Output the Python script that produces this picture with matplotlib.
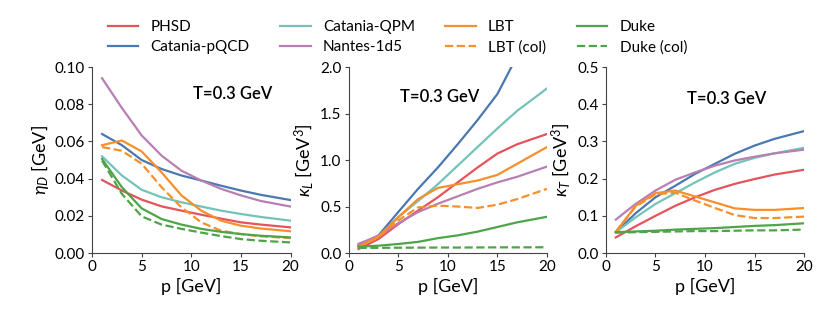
import numpy as np
import matplotlib
matplotlib.use("Agg")
import matplotlib.pyplot as plt

plt.rcParams['font.family'] = ['Lato', 'DejaVu Sans']
plt.rcParams['mathtext.fontset'] = 'custom'
plt.rcParams['mathtext.rm'] = 'Lato'
plt.rcParams['mathtext.it'] = 'Lato:italic'

# momentum grid (GeV)
p = [1, 3, 5, 7, 9, 11, 13, 15, 17, 20]

# eta_D [GeV]
eta_phsd = [0.0393, 0.0336, 0.0287, 0.0251, 0.0228, 0.0206, 0.0185, 0.0165, 0.0153, 0.0138]
eta_cpqcd = [0.064, 0.058, 0.050, 0.0452, 0.0417, 0.039, 0.0362, 0.0336, 0.0313, 0.0285]
eta_cqpm = [0.052, 0.0417, 0.034, 0.030, 0.0273, 0.025, 0.0228, 0.021, 0.0194, 0.0174]
eta_nantes = [0.094, 0.078, 0.0632, 0.0524, 0.0443, 0.039, 0.0345, 0.031, 0.028, 0.025]
eta_lbt = [0.058, 0.0605, 0.0546, 0.0434, 0.031, 0.0228, 0.0174, 0.0147, 0.0132, 0.0117]
eta_lbt_col = [0.057, 0.055, 0.048, 0.0354, 0.0246, 0.0165, 0.012, 0.0102, 0.009, 0.008]
eta_duke = [0.0506, 0.0354, 0.024, 0.0183, 0.0153, 0.013, 0.0114, 0.0102, 0.0093, 0.0084]
eta_duke_col = [0.0497, 0.0318, 0.0197, 0.0153, 0.013, 0.011, 0.0091, 0.0075, 0.0066, 0.0057]

# kappa_L [GeV^3]
kl_phsd = [0.043, 0.15, 0.31, 0.456, 0.60, 0.76, 0.92, 1.07, 1.17, 1.28]
kl_cpqcd = [0.079, 0.187, 0.44, 0.69, 0.92, 1.17, 1.43, 1.71, 2.12, 2.75]
kl_cqpm = [0.097, 0.176, 0.385, 0.56, 0.74, 0.94, 1.14, 1.34, 1.53, 1.77]
kl_nantes = [0.097, 0.187, 0.32, 0.44, 0.53, 0.61, 0.69, 0.76, 0.82, 0.93]
kl_lbt = [0.068, 0.176, 0.385, 0.58, 0.70, 0.74, 0.78, 0.84, 0.96, 1.14]
kl_lbt_col = [0.068, 0.17, 0.35, 0.49, 0.51, 0.50, 0.485, 0.52, 0.58, 0.69]
kl_duke = [0.068, 0.079, 0.097, 0.12, 0.16, 0.19, 0.23, 0.28, 0.33, 0.39]
kl_duke_col = [0.055, 0.056, 0.057, 0.058, 0.059, 0.059, 0.060, 0.061, 0.061, 0.062]

# kappa_T [GeV^3]
kt_phsd = [0.042, 0.072, 0.10, 0.127, 0.15, 0.17, 0.186, 0.199, 0.211, 0.224]
kt_cpqcd = [0.056, 0.107, 0.15, 0.181, 0.213, 0.24, 0.267, 0.289, 0.307, 0.328]
kt_cqpm = [0.056, 0.096, 0.132, 0.161, 0.19, 0.217, 0.24, 0.256, 0.268, 0.283]
kt_nantes = [0.09, 0.132, 0.168, 0.197, 0.217, 0.235, 0.249, 0.259, 0.268, 0.278]
kt_lbt = [0.057, 0.127, 0.161, 0.168, 0.152, 0.136, 0.12, 0.116, 0.116, 0.121]
kt_lbt_col = [0.057, 0.125, 0.158, 0.162, 0.141, 0.121, 0.102, 0.094, 0.094, 0.098]
kt_duke = [0.056, 0.058, 0.060, 0.063, 0.065, 0.067, 0.070, 0.073, 0.075, 0.080]
kt_duke_col = [0.055, 0.056, 0.057, 0.058, 0.059, 0.059, 0.060, 0.061, 0.061, 0.063]

colors = {"PHSD": "#e5545c", "Catania-pQCD": "#4a78b0", "Catania-QPM": "#74c3b9",
          "Nantes-1d5": "#b77fb3", "LBT": "#f68f2c", "Duke": "#4ea448"}

panels = [
    ([eta_phsd, eta_cpqcd, eta_cqpm, eta_nantes, eta_lbt, eta_lbt_col, eta_duke, eta_duke_col],
     r"$\eta_D$ [GeV]", (0, 0.10), [0, 0.02, 0.04, 0.06, 0.08, 0.10], "{:.2f}", (0.71, 0.855)),
    ([kl_phsd, kl_cpqcd, kl_cqpm, kl_nantes, kl_lbt, kl_lbt_col, kl_duke, kl_duke_col],
     r"$\kappa_L$ [GeV$^3$]", (0, 2.0), [0, 0.5, 1.0, 1.5, 2.0], "{:.1f}", (0.46, 0.84)),
    ([kt_phsd, kt_cpqcd, kt_cqpm, kt_nantes, kt_lbt, kt_lbt_col, kt_duke, kt_duke_col],
     r"$\kappa_T$ [GeV$^3$]", (0, 0.5), [0, 0.1, 0.2, 0.3, 0.4, 0.5], "{:.1f}", (0.61, 0.83)),
]

names = ["PHSD", "Catania-pQCD", "Catania-QPM", "Nantes-1d5", "LBT", "LBT (col)", "Duke", "Duke (col)"]
styles = ["-", "-", "-", "-", "-", "--", "-", "--"]
base = ["PHSD", "Catania-pQCD", "Catania-QPM", "Nantes-1d5", "LBT", "LBT", "Duke", "Duke"]

fig = plt.figure(figsize=(8.3, 3.12), dpi=100)
lefts = [0.111, 0.420, 0.730]
lines = []
for k, (series, ylab, ylim, yt, fmt, tpos) in enumerate(panels):
    ax = fig.add_axes([lefts[k], 0.189, 0.239, 0.596])
    for s, n, ls, b in zip(series, names, styles, base):
        ln, = ax.plot(p, s, ls, color=colors[b], lw=1.6, label=n)
        if k == 0:
            lines.append(ln)
    ax.set_xlim(0, 20)
    ax.set_ylim(*ylim)
    ax.set_xticks([0, 5, 10, 15, 20])
    ax.set_yticks(yt)
    ax.set_yticklabels([fmt.format(v) for v in yt])
    ax.tick_params(labelsize=11, length=3, width=0.8, color="#444444", pad=2)
    ax.set_xlabel("p [GeV]", fontsize=13, labelpad=3)
    ax.set_ylabel(ylab, fontsize=13, labelpad=3)
    ax.spines["top"].set_visible(False)
    ax.spines["right"].set_visible(False)
    for sp in ["left", "bottom"]:
        ax.spines[sp].set_color("#444444")
        ax.spines[sp].set_linewidth(0.8)
    ax.text(tpos[0], tpos[1], "T=0.3 GeV", transform=ax.transAxes, ha="center", va="center",
            fontsize=12, fontweight="semibold")

fig.legend(lines, names, ncol=4, frameon=False,
           loc="upper left", bbox_to_anchor=(0.113, 0.98), fontsize=11,
           handlelength=2.0, columnspacing=2.0, handletextpad=0.8, labelspacing=0.4)

fig.savefig("out.png", dpi=100)
